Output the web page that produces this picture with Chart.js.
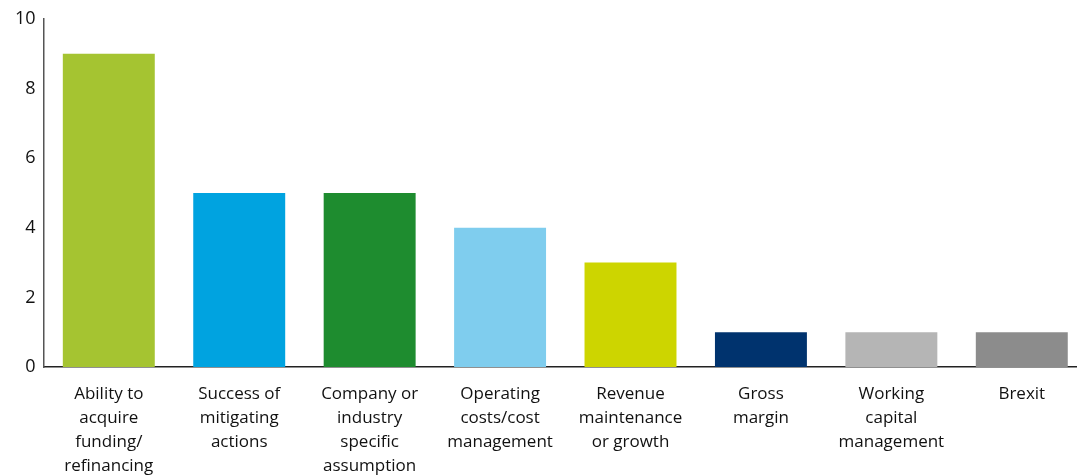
<!DOCTYPE html>
<html>
<head>
<meta charset="utf-8">
<script src="https://cdn.jsdelivr.net/npm/chart.js@4/dist/chart.umd.min.js"></script>
<style>
	html, body { margin: 0; padding: 0; background: #fff; overflow: hidden; }
	#box { position: relative; width: 1087px; height: 475px; }
</style>
</head>
<body>
<div id="box"><canvas id="chart-area"></canvas></div>
<script>
// categories (multi-line labels)
var categories = [
	["Ability to", "acquire", "funding/", "refinancing"],
	["Success of", "mitigating", "actions"],
	["Company or", "industry", "specific", "assumption"],
	["Operating", "costs/cost", "management"],
	["Revenue", "maintenance", "or growth"],
	["Gross", "margin"],
	["Working", "capital", "management"],
	["Brexit"]
];
var values = [9, 5, 5, 4, 3, 1, 1, 1];
var barColours = ["#a5c431", "#00a3e0", "#1e8c2f", "#7fcdee", "#cdd500", "#00336e", "#b5b5b5", "#8c8c8c"];
var yTicks = [0, 2, 4, 6, 8, 10];

var ctx = document.getElementById("chart-area").getContext("2d");
window.myBar = new Chart(ctx, {
	type: 'bar',
	data: {
		labels: categories,
		datasets: [{
			data: values,
			backgroundColor: barColours,
			borderWidth: 0,
			categoryPercentage: 1,
			barPercentage: 0.705
		}]
	},
	options: {
		responsive: true,
		maintainAspectRatio: false,
		animation: false,
		layout: { padding: { top: 8, left: 7, right: 0, bottom: -18 } },
		plugins: {
			legend: { display: false },
			tooltip: { enabled: false }
		},
		scales: {
			x: {
				grid: { display: false, drawTicks: false },
				border: { display: true, color: '#222', width: 1.5 },
				ticks: {
					color: '#111',
					padding: 15,
					maxRotation: 0,
					autoSkip: false,
					font: { family: 'Open Sans', size: 17, lineHeight: 1.41 }
				}
			},
			y: {
				min: 0,
				max: 10,
				afterBuildTicks: function(axis) {
					axis.ticks = yTicks.map(function(v) { return { value: v }; });
				},
				grid: { display: false, drawTicks: false },
				border: { display: true, color: '#555', width: 1.5 },
				ticks: {
					color: '#111',
					padding: 8,
					font: { family: 'Open Sans', size: 18 }
				}
			}
		}
	}
});
</script>
</body>
</html>
